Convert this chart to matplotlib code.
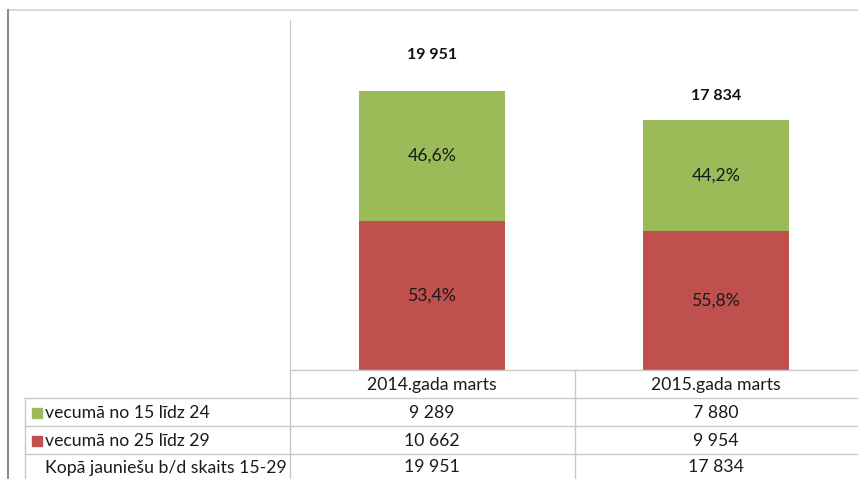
import matplotlib
matplotlib.use("Agg")
import matplotlib.pyplot as plt
from matplotlib.lines import Line2D
from matplotlib.patches import Rectangle

categories = ["2014.gada marts", "2015.gada marts"]
young = [9289, 7880]
older = [10662, 9954]
totals = [19951, 17834]
row_labels = ["vecumā no 15 līdz 24", "vecumā no 25 līdz 29", "Kopā jauniešu b/d skaits 15-29"]
total_offsets = [36, 24]  # px above bar top

green = "#9BBB59"
red = "#C0504D"
grid_c = "#c8c8c8"
txt_c = "#1a1a1a"
fs = 12.7

plt.rcParams['font.family'] = ['Lato', 'DejaVu Sans']

W, H = 858, 479
fig = plt.figure(figsize=(W / 100, H / 100), dpi=100)


def fx(px):
    return px / W


def fy(py):
    return 1 - py / H


def fmt(n):
    return f"{n:,}".replace(",", " ")


# plot area
ax = fig.add_axes([fx(290), fy(370), fx(858 - 290), (370 - 20) / H])
ax.bar(range(2), older, width=0.515, color=red)
ax.bar(range(2), young, width=0.515, bottom=older, color=green)
ax.set_xlim(-0.5, 1.5)
ax.set_ylim(0, 25000)
for s in ["top", "right", "bottom"]:
    ax.spines[s].set_visible(False)
ax.spines["left"].set_color(grid_c)
ax.set_xticks([])
ax.set_yticks([])

for i in range(2):
    pr = older[i] / totals[i] * 100
    py_ = young[i] / totals[i] * 100
    ax.text(i, older[i] / 2, f"{pr:.1f}%".replace(".", ","), ha="center", va="center",
            fontsize=fs, color=txt_c)
    ax.text(i, older[i] + young[i] / 2, f"{py_:.1f}%".replace(".", ","), ha="center",
            va="center", fontsize=fs, color=txt_c)
    ax.annotate(fmt(totals[i]), (i, totals[i]), xytext=(0, total_offsets[i]),
                textcoords="offset pixels", ha="center", va="center",
                fontsize=11.5, fontweight="bold", color="#111111")

# outer frame
fig.add_artist(Line2D([fx(8), fx(858)], [fy(10), fy(10)], color="#d4d4d4", lw=1.2))
fig.add_artist(Line2D([fx(8), fx(8)], [fy(10), fy(479)], color="#8a8a8a", lw=1.5))

# table grid
row_y = [370, 398, 426, 454, 479]
fig.add_artist(Line2D([fx(290), fx(858)], [fy(370), fy(370)], color=grid_c, lw=1))
for y in row_y[1:4]:
    fig.add_artist(Line2D([fx(25), fx(858)], [fy(y), fy(y)], color=grid_c, lw=1))
fig.add_artist(Line2D([fx(25), fx(25)], [fy(398), fy(479)], color=grid_c, lw=1))
fig.add_artist(Line2D([fx(575), fx(575)], [fy(370), fy(479)], color=grid_c, lw=1))
fig.add_artist(Line2D([fx(290), fx(290)], [fy(370), fy(479)], color=grid_c, lw=1))

col_x = [432, 716]
for j, c in enumerate(categories):
    fig.text(fx(col_x[j]), fy(385), c, ha="center", va="center", fontsize=fs, color=txt_c)

rows = [young, older, totals]
markers = [green, red, None]
for r in range(3):
    yc = (row_y[r + 1] + row_y[r + 2]) / 2 + 1
    if markers[r]:
        fig.add_artist(Rectangle((fx(32), fy(yc + 5)), fx(10), 10 / H,
                                 color=markers[r], transform=fig.transFigure))
    fig.text(fx(45), fy(yc), row_labels[r], ha="left", va="center", fontsize=fs, color=txt_c)
    for j in range(2):
        fig.text(fx(col_x[j]), fy(yc), fmt(rows[r][j]), ha="center", va="center",
                 fontsize=fs, color=txt_c)

fig.savefig("out.png", dpi=100)
